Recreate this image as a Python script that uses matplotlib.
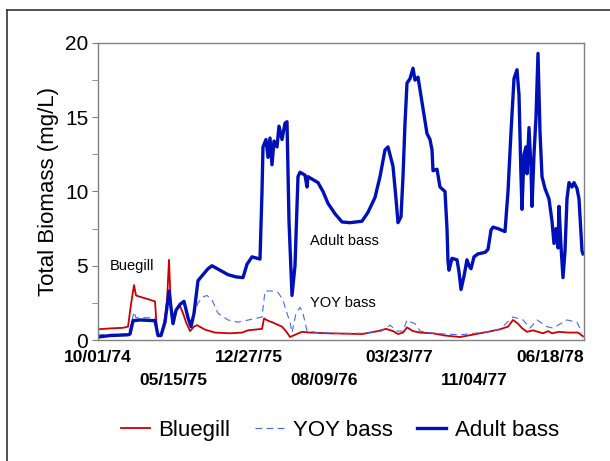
import matplotlib
matplotlib.use("Agg")
import matplotlib.pyplot as plt
from matplotlib.lines import Line2D

plt.rcParams['font.family'] = ['Liberation Sans', 'DejaVu Sans']

# -----------------------------------------
# Veri: gün (10/01/74'ten itibaren) ve biyokütle (mg/L)
adult_days = [0, 36, 90, 96, 105, 126, 171, 180, 189, 201, 213, 225, 234, 246, 258, 270, 279, 288,
              300, 315, 330, 342, 366, 390, 414, 435, 447, 462, 486, 492, 495, 504, 510, 516, 522,
              528, 537, 543, 552, 561, 567, 573, 582, 591, 600, 606, 621, 627, 630, 645, 660, 675,
              690, 711, 732, 756, 792, 810, 831, 846, 861, 870, 885, 894, 900, 909, 915, 921, 927,
              936, 945, 951, 960, 972, 987, 996, 1002, 1005, 1017, 1026, 1041, 1047, 1050, 1053,
              1062, 1077, 1083, 1089, 1098, 1107, 1113, 1119, 1128, 1140, 1161, 1170, 1179, 1185,
              1200, 1221, 1230, 1239, 1248, 1257, 1263, 1269, 1272, 1278, 1284, 1287, 1293, 1299,
              1302, 1308, 1314, 1320, 1326, 1332, 1341, 1353, 1362, 1368, 1374, 1380, 1383, 1389,
              1395, 1401, 1407, 1413, 1422, 1428, 1437, 1443, 1452, 1455]
adult_bass = [0.2, 0.3, 0.35, 0.4, 1.3, 1.35, 1.3, 0.3, 0.3, 1.2, 3.3, 1.1, 2.0, 2.4, 2.6, 1.5, 0.9, 1.8,
              4.0, 4.4, 4.8, 5.0, 4.7, 4.4, 4.25, 4.2, 5.1, 5.6, 5.45, 10.0, 13.0, 13.5, 12.3, 13.6, 11.8,
              13.4, 13.0, 14.4, 13.5, 14.6, 14.7, 8.0, 3.0, 5.0, 11.0, 11.3, 11.1, 10.3, 11.0, 10.8, 10.6, 10.0,
              9.2, 8.5, 7.95, 7.9, 8.0, 8.6, 9.6, 11.0, 12.8, 13.0, 11.7, 9.5, 7.9, 8.3, 11.0, 14.6, 17.3,
              17.6, 18.3, 17.5, 17.7, 16.0, 13.9, 13.5, 12.8, 11.4, 11.5, 10.3, 10.0, 7.5, 5.3, 4.7,
              5.5, 5.4, 4.6, 3.4, 4.3, 5.4, 5.0, 4.8, 5.6, 5.8, 5.9, 6.1, 7.4, 7.6,
              7.5, 7.3, 10.0, 14.0, 17.6, 18.2, 16.5, 11.0, 8.8, 12.5, 13.0, 11.2, 14.3, 11.5,
              9.0, 12.5, 15.0, 19.3, 14.0, 11.0, 10.2, 9.5, 8.0, 6.5, 7.5, 6.2, 9.0, 6.3,
              4.2, 6.0, 9.5, 10.6, 10.3, 10.6, 10.2, 9.5, 6.0, 5.8]

bluegill_days = [0, 36, 75, 90, 99, 108, 114, 120, 150, 171, 177, 183, 192, 201, 207, 213, 219, 225,
                 234, 246, 255, 264, 276, 288, 297, 309, 321, 351, 396, 432, 450, 492, 498, 510, 522,
                 552, 567, 576, 591, 612, 636, 690, 792, 840, 864, 885, 900, 915, 927, 945, 966, 1005,
                 1041, 1086, 1110, 1170, 1206, 1230, 1245, 1260, 1272, 1287, 1305, 1335, 1350, 1362,
                 1383, 1410, 1440, 1455]
bluegill = [0.72, 0.78, 0.82, 0.9, 2.4, 3.7, 3.0, 2.95, 2.75, 2.6, 0.6, 0.3, 0.5, 1.5, 2.6, 5.4, 2.0, 1.2,
            2.0, 2.3, 1.8, 1.2, 0.6, 0.9, 1.0, 0.85, 0.7, 0.5, 0.45, 0.5, 0.65, 0.75, 1.45, 1.3, 1.2,
            0.9, 0.5, 0.2, 0.35, 0.55, 0.5, 0.45, 0.4, 0.6, 0.75, 0.6, 0.4, 0.5, 0.85, 0.6, 0.5, 0.45,
            0.3, 0.2, 0.3, 0.55, 0.72, 0.9, 1.35, 1.1, 0.8, 0.55, 0.65, 0.45, 0.6, 0.45,
            0.55, 0.5, 0.5, 0.25]

yoy_days = [0, 90, 99, 108, 114, 171, 177, 186, 201, 213, 225, 234, 246, 258, 270, 279, 288, 300, 315,
            327, 342, 360, 390, 420, 441, 492, 501, 525, 540, 555, 564, 576, 582, 594, 606, 615, 627,
            660, 720, 800, 850, 876, 897, 915, 927, 939, 951, 966, 1005, 1086, 1170, 1206, 1245,
            1275, 1296, 1317, 1347, 1365, 1380, 1407, 1437, 1452]
yoy_bass = [0.35, 0.4, 1.0, 1.9, 1.5, 1.5, 0.4, 0.3, 1.3, 3.0, 1.2, 2.0, 2.3, 2.5, 1.3, 1.0, 1.7, 2.5, 2.9,
            3.0, 2.7, 1.8, 1.35, 1.2, 1.3, 1.55, 3.3, 3.3, 3.2, 2.7, 2.0, 1.2, 0.5, 1.8, 2.2, 1.8, 0.6,
            0.5, 0.45, 0.45, 0.6, 1.0, 0.6, 0.6, 1.35, 1.2, 1.1, 0.6, 0.45, 0.35, 0.55, 0.74, 1.55,
            1.35, 0.8, 1.35, 0.9, 0.8, 1.0, 1.35, 1.2, 0.5]

# X ekseni etiketleri (226 günde bir)
tick_labels = ["10/01/74", "05/15/75", "12/27/75", "08/09/76", "03/23/77", "11/04/77", "06/18/78"]
tick_days = [i * 226 for i in range(len(tick_labels))]

# -----------------------------------------
fig = plt.figure(figsize=(6.1, 4.61), dpi=100)
ax = fig.add_axes([98 / 610, 1 - 340 / 461, 486 / 610, 297 / 461])

ax.plot(bluegill_days, bluegill, color='#cc0000', linewidth=1.3, label='Bluegill')
ax.plot(yoy_days, yoy_bass, color='#4466ff', linewidth=0.8, linestyle=(0, (6, 4)), label='YOY bass')
ax.plot(adult_days, adult_bass, color='#0010b8', linewidth=2.4, label='Adult bass')

ax.set_xlim(0, 1458)
ax.set_ylim(0, 20)

# Y ekseni
ax.set_yticks([0, 5, 10, 15, 20])
ax.set_yticks([2.5, 7.5, 12.5, 17.5], minor=True)
ax.tick_params(axis='y', which='both', direction='out', length=4, color='#808080',
               labelsize=15, pad=3)
ax.set_ylabel("Total Biomass (mg/L)", fontsize=16, labelpad=4)

# X ekseni: iki satırlı etiketler
ax.set_xticks(tick_days[0::2], labels=tick_labels[0::2])
ax.set_xticks(tick_days[1::2], labels=tick_labels[1::2], minor=True)
ax.tick_params(axis='x', which='both', length=0, labelsize=12.5)
ax.tick_params(axis='x', which='major', pad=7)
ax.tick_params(axis='x', which='minor', pad=24)
for lab in ax.get_xticklabels(which='both'):
    lab.set_fontweight('bold')

for sp in ax.spines.values():
    sp.set_color('#808080')
    sp.set_linewidth(1.0)

# Serilerin isimleri grafik içinde
ax.text(36, 5.0, "Buegill", fontsize=10.5, va='center')
ax.text(636, 6.7, "Adult bass", fontsize=10.5, va='center')
ax.text(636, 2.5, "YOY bass", fontsize=10.5, va='center')

fig.legend(loc='center', bbox_to_anchor=(0.557, 0.067), ncol=3, frameon=False, fontsize=16,
           handlelength=1.3, handletextpad=0.4, columnspacing=1.1)

# Dış çerçeve
fig.add_artist(Line2D([7 / 610, 7 / 610], [0, 1 - 10 / 461], color='#333333', linewidth=1.2))
fig.add_artist(Line2D([7 / 610, 1], [1 - 10 / 461, 1 - 10 / 461], color='#333333', linewidth=1.2))

fig.savefig("out.png", dpi=100)
plt.close(fig)
